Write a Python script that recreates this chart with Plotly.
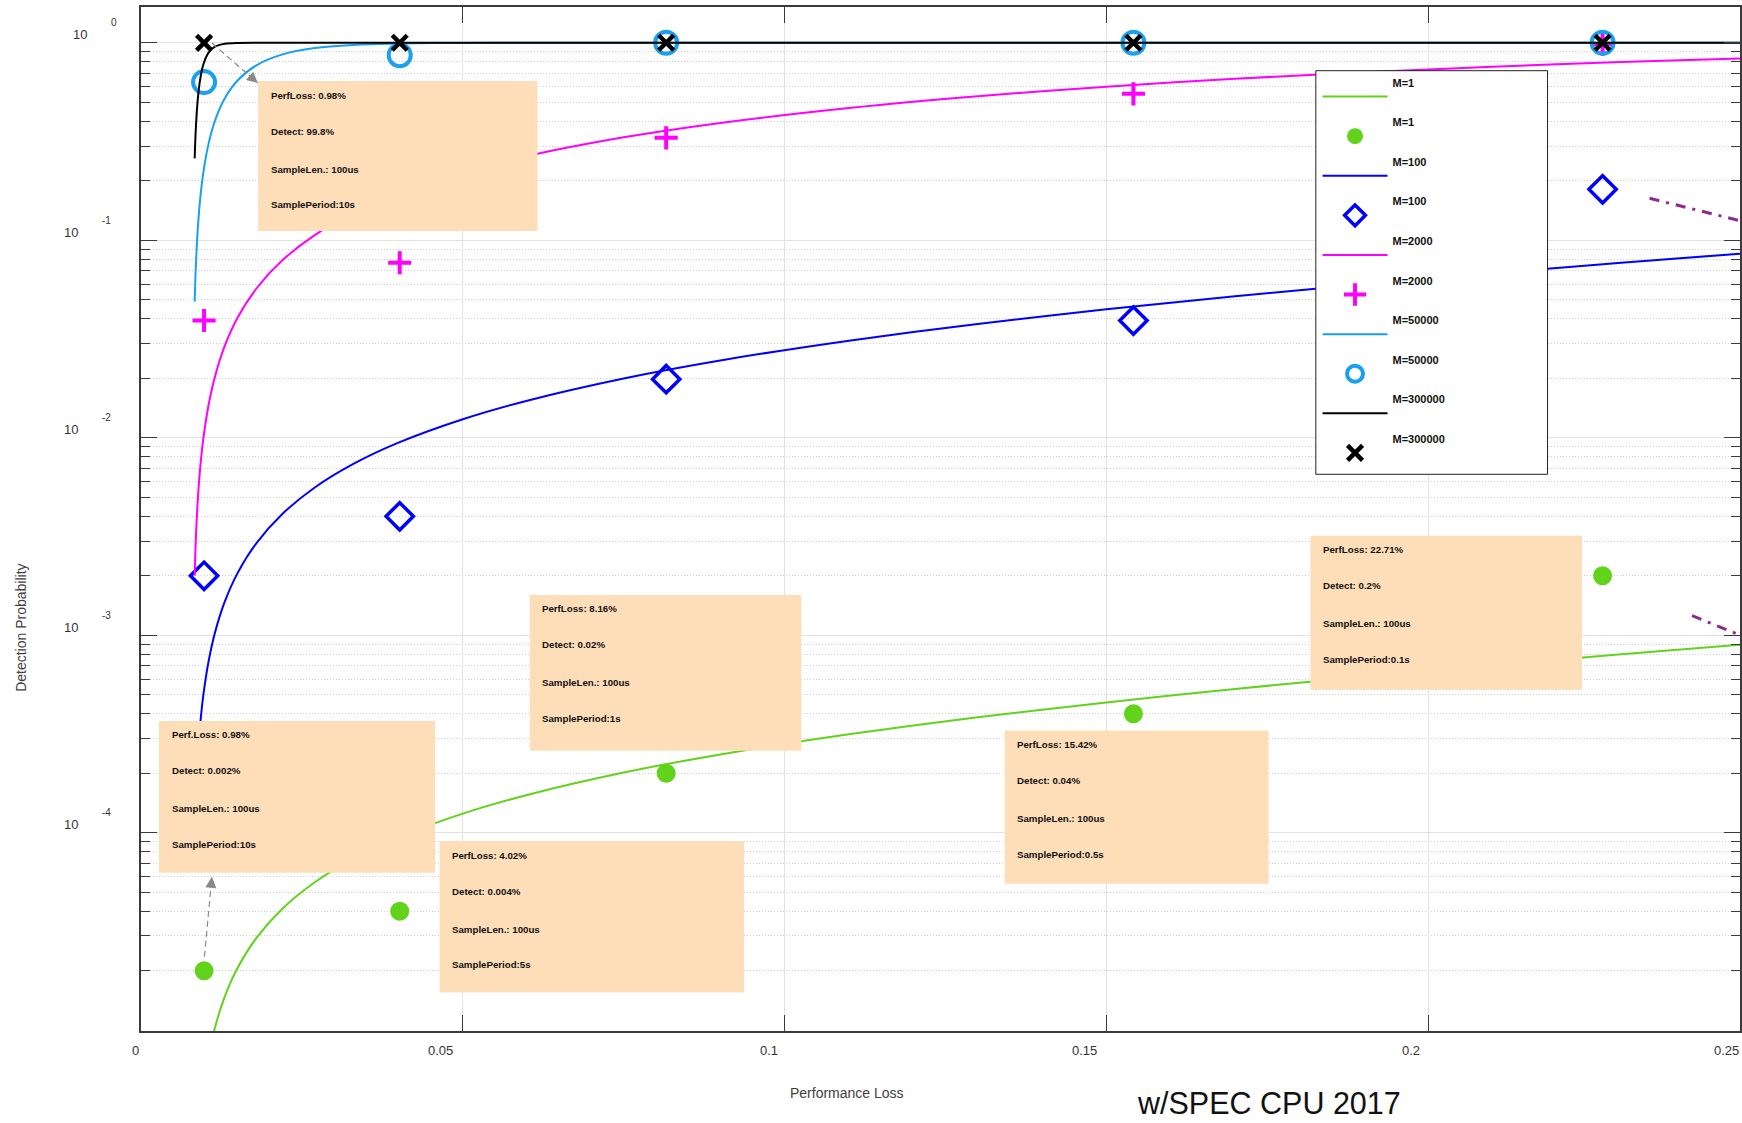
import math
import plotly.graph_objects as go

# ---------------- data ----------------
perf_loss = [0.0098, 0.0402, 0.0816, 0.1542, 0.2271]
detect_m1 = [2.0e-5, 4.0e-5, 2.0e-4, 4.0e-4, 2.0e-3]
detect_m100 = [0.0020, 0.0040, 0.0198, 0.0392, 0.181]
detect_m2000 = [0.0392, 0.0769, 0.330, 0.551, 0.982]
detect_m50000 = [0.632, 0.865, 0.99995, 1.0, 1.0]
detect_m300000 = [0.9975, 1.0, 1.0, 1.0, 1.0]

curve_x = [0.00834, 0.0085, 0.0088, 0.0092, 0.0097, 0.0105, 0.0115, 0.013, 0.015,
           0.018, 0.022, 0.027, 0.033, 0.04, 0.05, 0.06, 0.075, 0.09, 0.11, 0.13,
           0.15, 0.17, 0.19, 0.21, 0.23, 0.25]
curve_m1 = [1.003e-6, 1.475e-6, 2.36e-6, 3.54e-6, 5.015e-6, 7.375e-6, 1.0325e-5,
            1.475e-5, 2.065e-5, 2.951e-5, 4.134e-5, 5.614e-5, 7.396e-5, 9.484e-5,
            1.2489e-4, 1.5527e-4, 2.0165e-4, 2.4923e-4, 3.1501e-4, 3.8405e-4,
            4.5698e-4, 5.3445e-4, 6.1708e-4, 7.0552e-4, 8.0042e-4, 9.0239e-4]
curve_m100 = [1.003e-4, 1.475e-4, 2.36e-4, 3.539e-4, 5.014e-4, 7.372e-4, 1.032e-3,
              1.474e-3, 2.063e-3, 2.947e-3, 4.125e-3, 5.598e-3, 7.369e-3, 9.439e-3,
              0.012411, 0.015407, 0.019963, 0.024615, 0.031010, 0.037677, 0.044669,
              0.052042, 0.059843, 0.068122, 0.076922, 0.086285]
curve_m2000 = [2.004e-3, 2.946e-3, 4.709e-3, 7.055e-3, 0.00998, 0.01464, 0.02044,
               0.02907, 0.04046, 0.05731, 0.07935, 0.10621, 0.13750, 0.17278,
               0.22101, 0.26693, 0.33187, 0.39250, 0.46742, 0.53611, 0.59907,
               0.65662, 0.70894, 0.75612, 0.79831, 0.83550]
curve_m50000 = [0.0489, 0.0711, 0.1113, 0.1622, 0.2218, 0.3084, 0.4032, 0.5217,
                0.6439, 0.7713, 0.8734, 0.9397, 0.9752, 0.9913, 0.9981, 0.9996,
                1.0, 1.0, 1.0, 1.0, 1.0, 1.0, 1.0, 1.0, 1.0, 1.0]
curve_m300000 = [0.2598, 0.3576, 0.5074, 0.6542, 0.7778, 0.8906, 0.9548, 0.9880,
                 0.9980, 0.9999, 1.0, 1.0, 1.0, 1.0, 1.0, 1.0, 1.0, 1.0, 1.0, 1.0,
                 1.0, 1.0, 1.0, 1.0, 1.0, 1.0]

series_names = ["M=1", "M=100", "M=2000", "M=50000", "M=300000"]

x_tick_vals = [0, 0.05, 0.1, 0.15, 0.2]
x_tick_text = ["0", "0.05", "0.1", "0.15", "0.2"]
y_tick_exps = [0, -1, -2, -3, -4]

# annotation boxes: (x0, x1, y0, y1) in data units, and their text lines
boxes = [
    ((0.0182, 0.0616, 0.1115, 0.640),
     ["PerfLoss: 0.98%", "Detect: 99.8%", "SampleLen.: 100us", "SamplePeriod:10s"]),
    ((0.0028, 0.0457, 6.27e-5, 3.68e-4),
     ["Perf.Loss: 0.98%", "Detect: 0.002%", "SampleLen.: 100us", "SamplePeriod:10s"]),
    ((0.0464, 0.0937, 1.55e-5, 9.08e-5),
     ["PerfLoss: 4.02%", "Detect: 0.004%", "SampleLen.: 100us", "SamplePeriod:5s"]),
    ((0.0604, 0.1026, 2.60e-4, 1.60e-3),
     ["PerfLoss: 8.16%", "Detect: 0.02%", "SampleLen.: 100us", "SamplePeriod:1s"]),
    ((0.1342, 0.1752, 5.52e-5, 3.29e-4),
     ["PerfLoss: 15.42%", "Detect: 0.04%", "SampleLen.: 100us", "SamplePeriod:0.5s"]),
    ((0.1817, 0.2239, 5.30e-4, 3.19e-3),
     ["PerfLoss: 22.71%", "Detect: 0.2%", "SampleLen.: 100us", "SamplePeriod:0.1s"]),
]

# ---------------- layout geometry ----------------
W, H = 1742, 1123
ML, MT, MB, MR = 141, 7, 92, 0
PW, PH = W - ML - MR, H - MT - MB
X_RANGE = [0, 0.24845]
Y_RANGE = [-5.004, 0.181]


def paper_x(px):
    return (px - ML) / PW


def paper_y(py):
    return 1 - (py - MT) / PH


GREEN = "#62d31b"
BLUE = "#0000ff"
MAGENTA = "#ff00ff"
CYAN = "#19a0f0"
BLACK = "#000000"
PEACH = "#fddeb8"
PURPLE = "#8c2a8e"
FONT = "Liberation Sans, Arial, Helvetica, sans-serif"

styles = [
    dict(color=GREEN, marker=dict(symbol="circle", size=19, color=GREEN)),
    dict(color=BLUE, marker=dict(symbol="diamond-open", size=21, color=BLUE,
                                 line=dict(width=3.5, color=BLUE))),
    dict(color=MAGENTA, marker=dict(symbol="cross-thin-open", size=16.5, color=MAGENTA,
                                    line=dict(width=4, color=MAGENTA))),
    dict(color=CYAN, marker=dict(symbol="circle-open", size=22, color=CYAN,
                                 line=dict(width=4, color=CYAN))),
    dict(color=BLACK, marker=dict(symbol="x-thin-open", size=15, color=BLACK,
                                  line=dict(width=4.5, color=BLACK))),
]
curves = [curve_m1, curve_m100, curve_m2000, curve_m50000, curve_m300000]
points = [detect_m1, detect_m100, detect_m2000, detect_m50000, detect_m300000]

fig = go.Figure()
for i, name in enumerate(series_names):
    st = styles[i]
    fig.add_trace(go.Scatter(
        x=curve_x, y=curves[i], mode="lines", name=name + "<br> ",
        legendgroup="l%d" % i,
        line=dict(color=st["color"], width=2, shape="spline", smoothing=0.8),
        hoverinfo="skip"))
    fig.add_trace(go.Scatter(
        x=perf_loss, y=points[i], mode="markers", name=name + "<br> ",
        legendgroup="m%d" % i, marker=st["marker"], cliponaxis=False))

shapes = []
annotations = []

# annotation boxes
for (x0, x1, y0, y1), lines in boxes:
    shapes.append(dict(type="rect", xref="x", yref="y", x0=x0, x1=x1, y0=y0, y1=y1,
                       fillcolor=PEACH, line=dict(width=0), layer="above"))
    for txt, dy in zip(lines, [14, 50, 88, 123.5]):
        annotations.append(dict(
            xref="x", yref="y", x=x0, y=math.log10(y1), text=txt, showarrow=False,
            xanchor="left", yanchor="middle", xshift=10.5, yshift=-dy,
            font=dict(family=FONT, size=9.7, color="#111111", weight="bold")))

# dashed grey arrows
arrow_lines = [((0.01102, 0.9965), (0.01816, 0.625)),
               ((0.00985, 2.355e-5), (0.01102, 5.98e-5))]
arrow_heads = [(-10.6, -9.2), (-1.2, 12.0)]
for ((xa, ya), (xb, yb)), (ax, ay) in zip(arrow_lines, arrow_heads):
    shapes.append(dict(type="line", xref="x", yref="y", x0=xa, y0=ya, x1=xb, y1=yb,
                       line=dict(color="#8a8a8a", width=1.2, dash="6px,4px"),
                       layer="above"))
    annotations.append(dict(xref="x", yref="y", x=xb, y=math.log10(yb), text="",
                            showarrow=True, ax=ax, ay=ay, arrowhead=2, arrowsize=1.7,
                            arrowwidth=1.3, arrowcolor="#8a8a8a", standoff=0))

# purple dash-dot leaders toward the right edge
for (xa, ya), (xb, yb) in [((0.2344, 0.163), (0.252, 0.1175)),
                           ((0.2410, 1.256e-3), (0.252, 9.0e-4))]:
    shapes.append(dict(type="line", xref="x", yref="y", x0=xa, y0=ya, x1=xb, y1=yb,
                       line=dict(color=PURPLE, width=3, dash="10px,7px,3px,7px"),
                       layer="above"))

# legend frame
shapes.append(dict(type="rect", xref="paper", yref="paper",
                   x0=paper_x(1317.3), x1=paper_x(1549.3),
                   y0=paper_y(474.3), y1=paper_y(70.7),
                   fillcolor="white", line=dict(color="#222222", width=1),
                   layer="above"))

# y tick labels 10^k
for k in y_tick_exps:
    base_right = 89 if k == 0 else 80
    exp_right = 119 if k == 0 else 113
    annotations.append(dict(xref="paper", yref="y", x=0, y=k, text="10",
                            showarrow=False, xanchor="right", yanchor="middle",
                            xshift=base_right - ML, yshift=8,
                            font=dict(family=FONT, size=13, color="#333333")))
    annotations.append(dict(xref="paper", yref="y", x=0, y=k, text=str(k),
                            showarrow=False, xanchor="right", yanchor="middle",
                            xshift=exp_right - ML, yshift=20,
                            font=dict(family=FONT, size=10, color="#333333")))

# x tick labels
x_shifts = [-6, -22, -16, -22, -17]
for v, t, s in zip(x_tick_vals, x_tick_text, x_shifts):
    annotations.append(dict(xref="x", yref="paper", x=v, y=0, text=t, showarrow=False,
                            xanchor="center", yanchor="middle", xshift=s, yshift=-19.7,
                            font=dict(family=FONT, size=13, color="#333333")))
annotations.append(dict(xref="paper", yref="paper", x=paper_x(1751), y=0, text="0.25",
                        showarrow=False, xanchor="center", yanchor="middle",
                        xshift=-22, yshift=-19.7,
                        font=dict(family=FONT, size=13, color="#333333")))

# axis titles and caption
annotations.append(dict(xref="paper", yref="paper", x=paper_x(848), y=paper_y(1092.7),
                        text="Performance Loss", showarrow=False, xanchor="center",
                        yanchor="middle", font=dict(family=FONT, size=14, color="#404040")))
annotations.append(dict(xref="paper", yref="paper", x=paper_x(20.7), y=paper_y(628),
                        text="Detection Probability", showarrow=False, textangle=-90,
                        xanchor="center", yanchor="middle",
                        font=dict(family=FONT, size=14, color="#404040")))
annotations.append(dict(xref="paper", yref="paper", x=paper_x(1270), y=paper_y(1103),
                        text="w/SPEC CPU 2017", showarrow=False, xanchor="center",
                        yanchor="middle", borderpad=0,
                        font=dict(family=FONT, size=30.5, color="#111111")))

AX_COL = "#3a3a3a"
fig.update_layout(
    width=W, height=H, autosize=False,
    margin=dict(l=ML, r=MR, t=MT, b=MB, pad=0),
    paper_bgcolor="white", plot_bgcolor="white",
    showlegend=True,
    legend=dict(x=paper_x(1319), y=paper_y(68.6), xanchor="left", yanchor="top",
                bgcolor="rgba(0,0,0,0)", borderwidth=0, itemwidth=65,
                tracegroupgap=8, valign="bottom",
                font=dict(family=FONT, size=11, color="#111111", weight="bold")),
    shapes=shapes, annotations=annotations,
    xaxis=dict(range=X_RANGE, tick0=0, dtick=0.05, showticklabels=False,
               ticks="inside", ticklen=16, tickwidth=1.2, tickcolor=AX_COL,
               showline=True, linecolor=AX_COL, linewidth=1.6, mirror="ticks",
               showgrid=True, gridcolor="#e2e2e2", gridwidth=1.2, zeroline=False),
    yaxis=dict(type="log", range=Y_RANGE, tick0=0, dtick=1, showticklabels=False,
               ticks="inside", ticklen=16, tickwidth=1.2, tickcolor=AX_COL,
               showline=True, linecolor=AX_COL, linewidth=1.6, mirror="ticks",
               showgrid=True, gridcolor="#e2e2e2", gridwidth=1.2, zeroline=False,
               minor=dict(dtick="D1", ticks="inside", ticklen=9, tickwidth=1,
                          tickcolor=AX_COL, showgrid=True, gridcolor="#cfcfcf",
                          griddash="1px,2px", gridwidth=1)),
)

fig.write_html("out.html", config={"displayModeBar": False})
